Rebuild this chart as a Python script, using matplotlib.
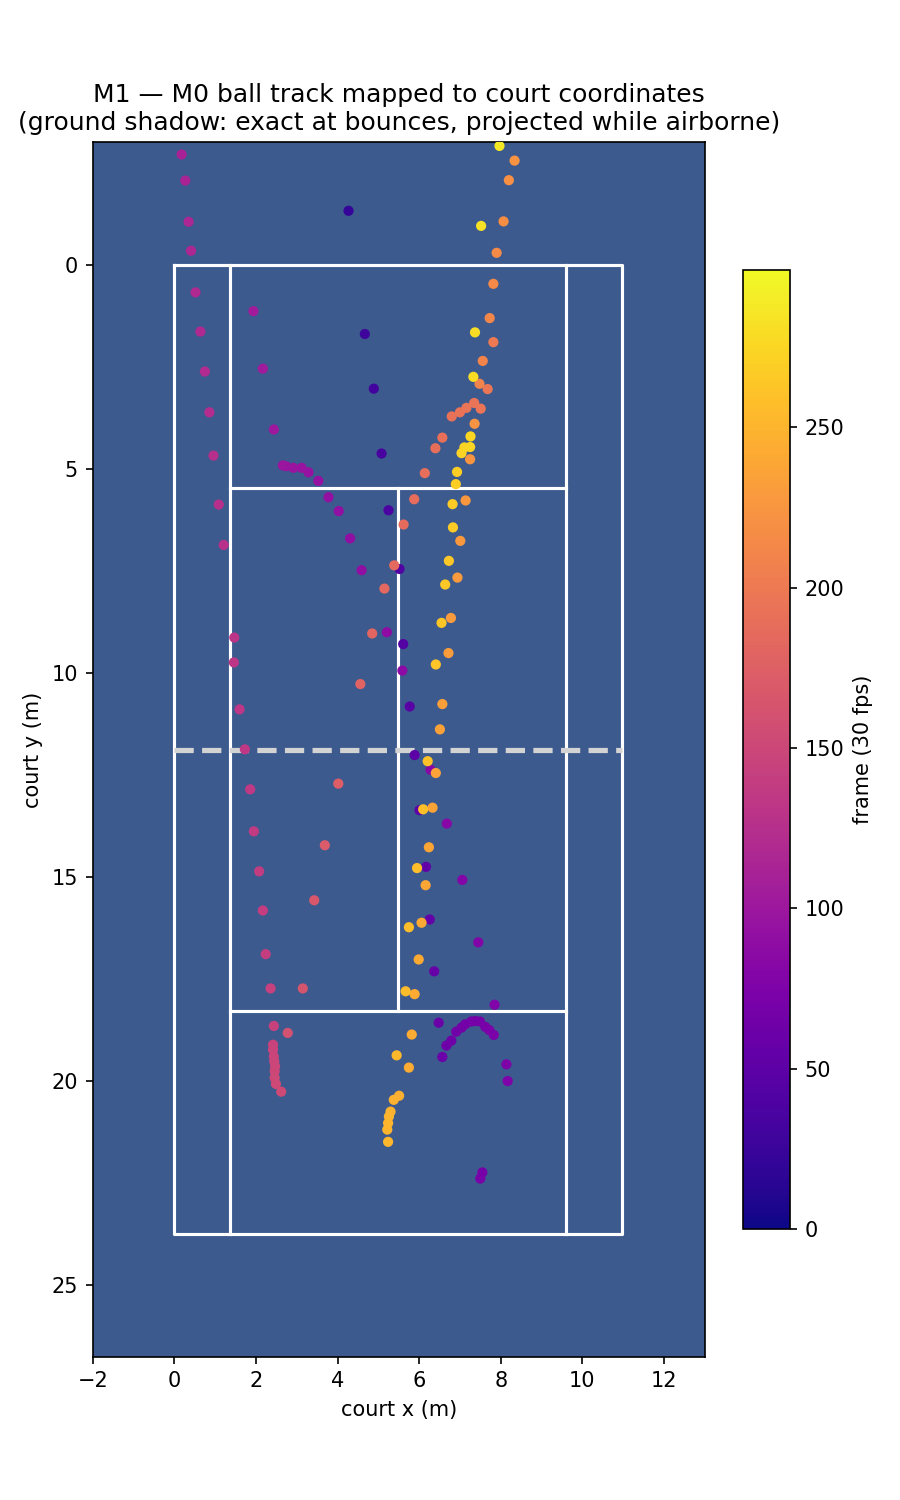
import matplotlib
matplotlib.use("Agg")
import matplotlib.pyplot as plt

# court dimensions (m)
court_len = 23.77
court_w = 10.97
singles_in = 1.37
service_off = 6.4

# ball ground-shadow track: x (m), y (m), frame index
track_x = [
    4.27, 4.67, 4.89, 5.08, 5.25, 5.52, 5.61, 5.77, 5.89, 6.01, 6.17, 6.26, 6.37, 6.48, 6.57,
    6.67, 6.79, 6.91, 7.04, 7.13, 7.28, 7.38, 7.49, 7.62, 7.72, 7.83,
    8.14, 8.17, 7.55, 7.50,
    7.85, 7.45, 7.06, 6.68, 6.28, 5.59, 5.21, 4.59, 4.31, 4.03, 3.78, 3.53, 3.29, 3.12, 2.92,
    2.74, 2.66, 2.44, 2.17, 1.94,
    0.18, 0.27, 0.35, 0.41, 0.52, 0.64, 0.75, 0.86, 0.96, 1.09, 1.21, 1.47, 1.46, 1.60, 1.73,
    1.86, 1.95, 2.08, 2.17, 2.24, 2.36, 2.44,
    2.42, 2.42, 2.44, 2.45, 2.47, 2.46, 2.46, 2.49, 2.62,
    2.78, 3.15, 3.43, 3.69, 4.02, 4.56, 4.85, 5.15, 5.39, 5.62, 5.88, 6.14, 6.40, 6.57, 6.80,
    7.00, 7.16, 7.35, 7.51, 7.68, 7.82,
    7.48, 7.56, 7.73, 7.82, 7.90, 8.07, 8.20, 8.34,
    7.36, 7.25, 7.14, 7.01, 6.94, 6.78, 6.72, 6.57, 6.51, 6.41, 6.33, 6.24, 6.16, 6.06, 5.99,
    5.89, 5.82, 5.75,
    5.51, 5.38, 5.30, 5.26, 5.24, 5.22, 5.24,
    5.45, 5.67, 5.75, 5.95, 6.10, 6.21, 6.41, 6.55, 6.64, 6.73, 6.83, 6.82, 6.90, 6.93,
    7.04, 7.11, 7.25, 7.26, 7.33, 7.37, 7.52, 7.97,
]
track_y = [
    -1.32, 1.70, 3.04, 4.63, 6.02, 7.46, 9.30, 10.83, 12.02, 13.37, 14.76, 16.05, 17.32, 18.58, 19.42,
    19.14, 19.02, 18.80, 18.70, 18.62, 18.55, 18.54, 18.55, 18.68, 18.76, 18.88,
    19.60, 20.01, 22.25, 22.40,
    18.14, 16.61, 15.08, 13.70, 12.38, 9.95, 9.01, 7.49, 6.71, 6.04, 5.70, 5.30, 5.09, 4.98, 4.98,
    4.94, 4.92, 4.04, 2.55, 1.14,
    -2.70, -2.06, -1.05, -0.34, 0.68, 1.64, 2.62, 3.62, 4.68, 5.88, 6.87, 9.14, 9.75, 10.90, 11.88,
    12.86, 13.89, 14.87, 15.83, 16.90, 17.74, 18.66,
    19.12, 19.24, 19.41, 19.53, 19.65, 19.77, 19.93, 20.08, 20.27,
    18.83, 17.74, 15.58, 14.23, 12.72, 10.28, 9.04, 7.94, 7.37, 6.37, 5.75, 5.11, 4.50, 4.24, 3.72,
    3.62, 3.51, 3.39, 3.53, 3.05, 1.90,
    2.92, 2.36, 1.31, 0.47, -0.29, -1.06, -2.07, -2.55,
    3.90, 4.77, 5.78, 6.77, 7.67, 8.66, 9.52, 10.77, 11.39, 12.46, 13.31, 14.28, 15.21, 16.13, 17.03,
    17.88, 18.87, 19.68,
    20.37, 20.47, 20.76, 20.88, 21.04, 21.20, 21.50,
    19.38, 17.81, 16.24, 14.79, 13.35, 12.17, 9.80, 8.78, 7.84, 7.26, 6.44, 5.87, 5.38, 5.08,
    4.62, 4.48, 4.47, 4.21, 2.75, 1.66, -0.95, -2.91,
]
track_frame = [
    22, 28, 31, 34, 37, 40, 43, 46, 48, 51, 53, 55, 57, 59, 61,
    63, 64, 65, 66, 67, 68, 69, 70, 71, 72, 73,
    74, 75, 70, 71,
    76, 78, 80, 82, 84, 87, 88, 90, 91, 92, 93, 94, 95, 96, 97,
    98, 99, 101, 103, 105,
    112, 113, 115, 116, 118, 119, 121, 122, 124, 125, 127, 130, 131, 132, 134,
    135, 137, 138, 140, 141, 143, 144,
    145, 146, 147, 148, 149, 150, 151, 152, 153,
    160, 163, 167, 170, 173, 178, 180, 183, 184, 186, 187, 189, 190, 191, 192,
    193, 194, 195, 196, 197, 199,
    208, 210, 212, 214, 216, 218, 220, 222,
    222, 224, 226, 227, 228, 230, 231, 233, 234, 235, 237, 238, 239, 240, 241,
    242, 243, 244,
    246, 247, 248, 249, 250, 251, 252,
    253, 255, 256, 258, 259, 260, 262, 263, 264, 265, 266, 267, 268, 269,
    272, 273, 274, 275, 278, 280, 283, 288,
]

fig = plt.figure(figsize=(6, 10), dpi=150)
ax = fig.add_axes([0.103, 0.0953, 0.680, 0.810])
ax.set_facecolor("#3c5a8e")

# court lines
lw = 1.5
ax.plot([0, court_w, court_w, 0, 0], [0, 0, court_len, court_len, 0], color="white", lw=lw)
for sx in (singles_in, court_w - singles_in):
    ax.plot([sx, sx], [0, court_len], color="white", lw=lw)
sv1 = court_len / 2 - service_off
sv2 = court_len / 2 + service_off
for sy in (sv1, sv2):
    ax.plot([singles_in, court_w - singles_in], [sy, sy], color="white", lw=lw)
ax.plot([court_w / 2, court_w / 2], [sv1, sv2], color="white", lw=lw)
ax.plot([0, court_w], [court_len / 2, court_len / 2], color="lightgray", lw=2.5, ls="--")

sc = ax.scatter(track_x, track_y, c=track_frame, cmap="plasma", vmin=0, vmax=299,
                s=24, linewidths=0, zorder=3)

ax.set_xlim(-2, 13)
ax.set_ylim(court_len + 3, -3)
ax.set_aspect("equal")
ax.set_xlabel("court x (m)")
ax.set_ylabel("court y (m)")
ax.set_title("M1 \u2014 M0 ball track mapped to court coordinates\n"
             "(ground shadow: exact at bounces, projected while airborne)")

cax = fig.add_axes([0.8256, 0.1807, 0.0522, 0.6393])
cb = fig.colorbar(sc, cax=cax)
cb.set_label("frame (30 fps)")

fig.savefig("out.png", dpi=150)
